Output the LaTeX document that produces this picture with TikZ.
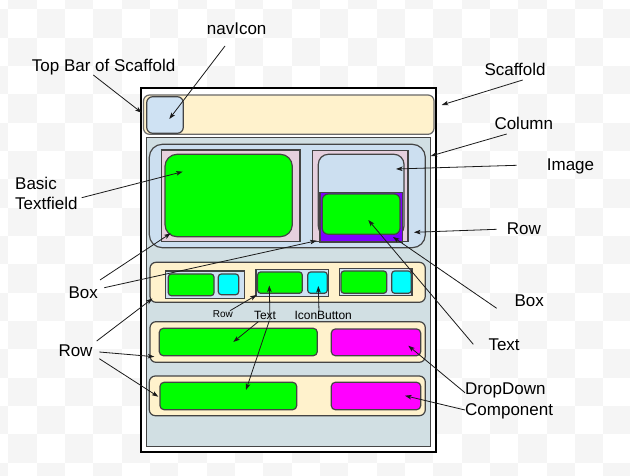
\documentclass[tikz,border=0pt]{standalone}
\usepackage{fontspec}
\setmainfont{Liberation Sans}
\usetikzlibrary{arrows.meta}
\definecolor{cream}{HTML}{FFF2CC}
\definecolor{lblue}{HTML}{CFE2F3}
\definecolor{rowblue}{HTML}{CCDFF0}
\definecolor{colgray}{HTML}{D1DFE3}
\definecolor{pinkbox}{HTML}{E6D0DE}
\definecolor{vgreen}{HTML}{00FF00}
\definecolor{vcyan}{HTML}{00FFFF}
\definecolor{vmag}{HTML}{FF00FF}
\definecolor{vpurple}{HTML}{7F00FF}
\definecolor{edge}{HTML}{444444}
\definecolor{checker}{HTML}{F5F5F5}
\definecolor{arrowc}{HTML}{1A1A1A}
\tikzset{
  shp/.style={draw=edge, line width=1.2pt},
  bigl/.style={inner sep=0pt, anchor=base west, font=\fontsize{17}{20.5}\selectfont, align=left},
  midl/.style={inner sep=0pt, anchor=base west, font=\fontsize{12}{14}\selectfont},
  smalll/.style={inner sep=0pt, anchor=base west, font=\fontsize{10}{12}\selectfont},
  arr/.style={draw=arrowc, line width=0.8pt, -{Stealth[length=6.5pt,width=4.5pt,inset=1.5pt]}},
}
\begin{document}
\begin{tikzpicture}[x=1pt,y=-1pt]
\useasboundingbox (0,0) rectangle (630,476);
% checkered background
\begin{scope}
\clip (0,0) rectangle (630,476);
\fill[white] (0,0) rectangle (630,476);
\foreach \i in {-1,...,22}{
  \foreach \j in {-1,...,17}{
    \pgfmathtruncatemacro{\odd}{mod(\i+\j+100,2)}
    \ifnum\odd=1
      \fill[checker] ({8.4+28.33*\i},{9.3+28.33*\j}) rectangle ++(28.33,28.33);
    \fi
  }
}
\end{scope}
% scaffold
\draw[fill=white, draw=black, line width=2pt] (140.7,88.3) rectangle (436,452.3);
% top bar
\draw[shp, draw=edge!80, fill=cream, rounded corners=6pt] (143.5,95) rectangle (434,134.3);
\draw[shp, fill=lblue, rounded corners=6pt] (146.7,96.7) rectangle (183.3,133.3);
% column
\draw[shp, fill=colgray, line width=1.4pt] (146.7,137.7) rectangle (430.7,446.7);
% row 1
\draw[shp, fill=rowblue, rounded corners=13pt] (149.3,144.3) rectangle (425.3,247.7);
\draw[shp, fill=pinkbox] (161.7,150) rectangle (300,241.7);
\draw[shp, fill=vgreen, rounded corners=12pt] (165,154.3) rectangle (292.3,236.7);
\draw[shp, fill=pinkbox] (312.7,150.3) rectangle (408,241.7);
\draw[shp, fill=rowblue, rounded corners=10pt] (318.3,154.3) rectangle (404,236);
\draw[shp, fill=vpurple] (320,192.3) rectangle (402.7,242);
\draw[shp, fill=vgreen, rounded corners=6pt] (322.3,194) rectangle (400,234.3);
% row 2
\draw[shp, fill=cream, rounded corners=6pt] (150,262.3) rectangle (425.3,302.3);
\draw[shp, fill=lblue] (165.7,271) rectangle (244.3,298.3);
\draw[shp, fill=vgreen, rounded corners=3pt] (168.3,274) rectangle (214,295.7);
\draw[shp, fill=vcyan, rounded corners=3pt] (218.3,274) rectangle (238.7,294.7);
\draw[shp, fill=lblue] (256,269.3) rectangle (328.7,296.3);
\draw[shp, fill=vgreen, rounded corners=3pt] (257.6,272) rectangle (302.3,293.3);
\draw[shp, fill=vcyan, rounded corners=3pt] (307.7,272) rectangle (327.3,293.3);
\draw[shp, fill=lblue] (339.3,268.3) rectangle (412,295.3);
\draw[shp, fill=vgreen, rounded corners=3pt] (341,271) rectangle (386.7,293.3);
\draw[shp, fill=vcyan, rounded corners=3pt] (391.7,271) rectangle (411.3,293.3);
% row 3
\draw[shp, fill=cream, rounded corners=6pt] (150,321.7) rectangle (425.3,362.3);
\draw[shp, fill=vgreen, rounded corners=4pt] (159.3,328.3) rectangle (317.3,355.7);
\draw[shp, fill=vmag, rounded corners=4pt] (331.3,329) rectangle (420.7,355.7);
% row 4
\draw[shp, fill=cream, rounded corners=6pt] (149.3,376) rectangle (425.3,415.7);
\draw[shp, fill=vgreen, rounded corners=4pt] (160,382.3) rectangle (296.7,409.7);
\draw[shp, fill=vmag, rounded corners=4pt] (331.3,382.3) rectangle (420.7,409.7);

% labels
\node[bigl] (ltop) at (31.7,71.7) {Top Bar of Scaffold};
\node[bigl] (lnav) at (206.7,35) {navIcon};
\node[bigl] (lscaf) at (484.3,75.7) {Scaffold};
\node[bigl] (lcol) at (494.3,130) {Column};
\node[bigl] (limg) at (546.7,171) {Image};
\node[bigl] (lrowr) at (506.7,235) {Row};
\node[bigl] (lbtf) at (15,210) {Basic\\Textfield};
\node[bigl] (lboxl) at (68.3,298.7) {Box};
\node[bigl] (lrowl) at (58.3,356.7) {Row};
\node[bigl] (lboxr) at (514.3,306.7) {Box};
\node[bigl] (ltextr) at (488.3,350.7) {Text};
\node[bigl] (ldd) at (465,415) {DropDown\\Component};
\node[smalll] (lrows) at (212.7,317.3) {Row};
\node[midl] (ltextm) at (253.8,319.3) {Text};
\node[midl] (licon) at (294.3,319.3) {IconButton};

% connector end points
\coordinate (s1) at (93.3,75);    \coordinate (t1) at (141.7,112.7);
\coordinate (s2) at (225,46);     \coordinate (t2) at (169.3,119);
\coordinate (s3) at (522.7,80);   \coordinate (t3) at (441.7,105);
\coordinate (s4) at (506.7,134);  \coordinate (t4) at (430.7,156);
\coordinate (s5) at (516.7,165.3);\coordinate (t5) at (396,169);
\coordinate (s6) at (496.7,229.3);\coordinate (t6) at (414,232.3);
\coordinate (s7) at (81.7,197.7); \coordinate (t7) at (182.7,171.7);
\coordinate (s8) at (100,280);    \coordinate (t8) at (170.7,233.3);
\coordinate (s9) at (104.3,287.7);\coordinate (t9) at (316.7,240.7);
\coordinate (s10) at (96.7,341);  \coordinate (t10) at (152.5,298.5);
\coordinate (s11) at (99.3,352);  \coordinate (t11) at (154.3,356.7);
\coordinate (s12) at (99.3,358.7);\coordinate (t12) at (158.3,396.7);
\coordinate (s13) at (496.7,308.3);\coordinate (t13) at (393,237);
\coordinate (s14) at (473.3,344.3);\coordinate (t14) at (368.3,220);
\coordinate (s15) at (465,392.7); \coordinate (t15) at (408.3,345.7);
\coordinate (s16) at (465,410);   \coordinate (t16) at (405,395.7);
\coordinate (s17) at (230,310.7); \coordinate (t17) at (256.7,295);
\coordinate (s18) at (270,320);   \coordinate (t18) at (269.3,285.5);
\coordinate (s19) at (269.3,320.7);\coordinate (t19) at (246,390);
\coordinate (s20) at (258.3,321.7);\coordinate (t20) at (233.3,342);
\coordinate (s21) at (319,311.7); \coordinate (t21) at (318.3,286);

\foreach \k in {1,...,21}{ \draw[arr] (s\k) -- (t\k); }
\end{tikzpicture}
\end{document}
